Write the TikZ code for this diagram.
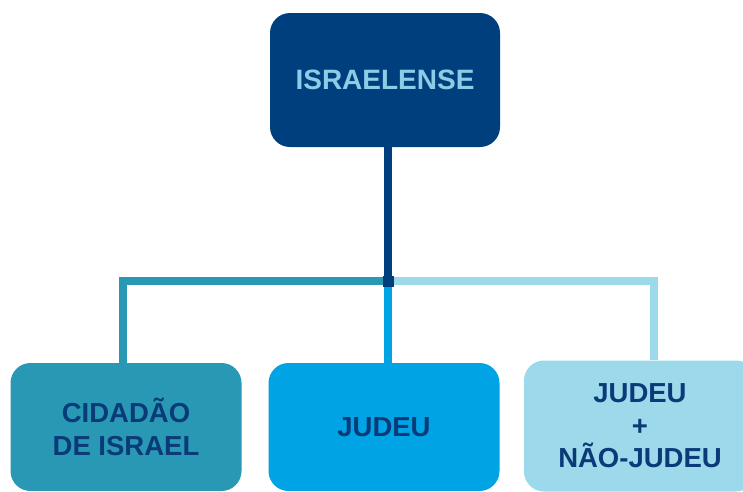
\documentclass[tikz,border=0pt]{standalone}
\usepackage{fontspec}
\setmainfont{Liberation Sans}
\usepackage{tikz}
\definecolor{navyblue}{RGB}{0,63,125}
\definecolor{textlight}{RGB}{140,204,230}
\definecolor{textnavy}{RGB}{10,58,120}
\definecolor{tealblue}{RGB}{40,152,181}
\definecolor{midblue}{RGB}{0,163,228}
\definecolor{paleblue}{RGB}{156,217,234}

\begin{document}
\begin{tikzpicture}[x=1pt,y=-1pt,
	box/.style={rounded corners=20pt,minimum width=231pt,minimum height=128pt,align=center,inner sep=0pt,font=\fontsize{27.5}{32.5}\selectfont\bfseries,text=textnavy},
	link/.style={line width=8.5pt}]
	\useasboundingbox (0,0) rectangle (743,491);
	
	\coordinate (junction) at (388,281);
	
	\node[box,fill=navyblue,text=textlight,minimum width=230pt,minimum height=134pt,font=\fontsize{28}{32}\selectfont\bfseries] (israelense) at (385,80) {ISRAELENSE};
	\node[box,fill=tealblue] (cidadao) at (126,427) {CIDADÃO\\DE ISRAEL};
	\node[box,fill=paleblue,minimum width=232pt,minimum height=131pt] (misto) at (640,426) {JUDEU\\+\\NÃO-JUDEU};
	\node[box,fill=midblue] (judeu) at (384,427) {JUDEU};
	
	\draw[link,tealblue] (junction) -| ([xshift=-3pt]cidadao.north);
	\draw[link,paleblue] (junction) -| ([xshift=14pt]misto.north);
	\draw[link,midblue] (junction) -- (junction |- judeu.north);
	\draw[link,navyblue] (israelense.south -| junction) -- (junction);
	\node[fill=navyblue,inner sep=0pt,minimum size=11pt] at (junction) {};
\end{tikzpicture}
\end{document}
